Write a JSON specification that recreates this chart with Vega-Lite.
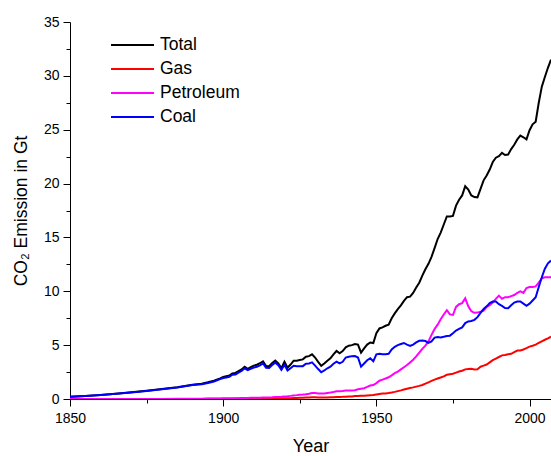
{
  "$schema": "https://vega.github.io/schema/vega-lite/v6.json",
  "width": 481,
  "height": 377,
  "autosize": {"type": "none"},
  "padding": {"left": 70, "top": 22, "right": 0, "bottom": 57},
  "background": "white",
  "config": {
    "font": "Liberation Sans",
    "view": {"stroke": null},
    "axis": {"grid": false, "domainColor": "#000000", "tickColor": "#000000", "labelColor": "#000000", "titleColor": "#000000", "domainWidth": 1, "tickWidth": 1, "labelFont": "Liberation Sans", "titleFont": "Liberation Sans", "titleFontWeight": "normal"}
  },
  "data": {
    "values": [
      {"year": 1850, "Total": 0.20, "Coal": 0.20, "Petroleum": 0.0, "Gas": 0.0},
      {"year": 1855, "Total": 0.27, "Coal": 0.27, "Petroleum": 0.0, "Gas": 0.0},
      {"year": 1860, "Total": 0.36, "Coal": 0.36, "Petroleum": 0.0, "Gas": 0.0},
      {"year": 1865, "Total": 0.48, "Coal": 0.48, "Petroleum": 0.005, "Gas": 0.0},
      {"year": 1870, "Total": 0.62, "Coal": 0.61, "Petroleum": 0.01, "Gas": 0.0},
      {"year": 1875, "Total": 0.76, "Coal": 0.75, "Petroleum": 0.01, "Gas": 0.0},
      {"year": 1880, "Total": 0.92, "Coal": 0.91, "Petroleum": 0.01, "Gas": 0.0},
      {"year": 1885, "Total": 1.10, "Coal": 1.07, "Petroleum": 0.02, "Gas": 0.005},
      {"year": 1890, "Total": 1.33, "Coal": 1.29, "Petroleum": 0.03, "Gas": 0.01},
      {"year": 1893, "Total": 1.42, "Coal": 1.37, "Petroleum": 0.03, "Gas": 0.01},
      {"year": 1895, "Total": 1.55, "Coal": 1.49, "Petroleum": 0.04, "Gas": 0.02},
      {"year": 1897, "Total": 1.70, "Coal": 1.63, "Petroleum": 0.05, "Gas": 0.02},
      {"year": 1899, "Total": 1.92, "Coal": 1.84, "Petroleum": 0.05, "Gas": 0.02},
      {"year": 1900, "Total": 2.05, "Coal": 1.95, "Petroleum": 0.06, "Gas": 0.03},
      {"year": 1901, "Total": 2.12, "Coal": 2.00, "Petroleum": 0.07, "Gas": 0.03},
      {"year": 1902, "Total": 2.18, "Coal": 2.05, "Petroleum": 0.07, "Gas": 0.03},
      {"year": 1903, "Total": 2.38, "Coal": 2.25, "Petroleum": 0.08, "Gas": 0.03},
      {"year": 1904, "Total": 2.42, "Coal": 2.28, "Petroleum": 0.08, "Gas": 0.04},
      {"year": 1905, "Total": 2.60, "Coal": 2.45, "Petroleum": 0.08, "Gas": 0.04},
      {"year": 1906, "Total": 2.75, "Coal": 2.60, "Petroleum": 0.09, "Gas": 0.04},
      {"year": 1907, "Total": 3.00, "Coal": 2.85, "Petroleum": 0.10, "Gas": 0.04},
      {"year": 1908, "Total": 2.80, "Coal": 2.68, "Petroleum": 0.10, "Gas": 0.05},
      {"year": 1909, "Total": 2.95, "Coal": 2.80, "Petroleum": 0.11, "Gas": 0.05},
      {"year": 1910, "Total": 3.10, "Coal": 2.92, "Petroleum": 0.11, "Gas": 0.05},
      {"year": 1911, "Total": 3.18, "Coal": 3.00, "Petroleum": 0.12, "Gas": 0.06},
      {"year": 1912, "Total": 3.32, "Coal": 3.12, "Petroleum": 0.12, "Gas": 0.06},
      {"year": 1913, "Total": 3.50, "Coal": 3.31, "Petroleum": 0.13, "Gas": 0.06},
      {"year": 1914, "Total": 3.05, "Coal": 2.90, "Petroleum": 0.14, "Gas": 0.06},
      {"year": 1915, "Total": 3.05, "Coal": 2.88, "Petroleum": 0.15, "Gas": 0.06},
      {"year": 1916, "Total": 3.35, "Coal": 3.15, "Petroleum": 0.16, "Gas": 0.07},
      {"year": 1917, "Total": 3.56, "Coal": 3.37, "Petroleum": 0.18, "Gas": 0.07},
      {"year": 1918, "Total": 3.30, "Coal": 3.14, "Petroleum": 0.19, "Gas": 0.07},
      {"year": 1919, "Total": 2.85, "Coal": 2.70, "Petroleum": 0.21, "Gas": 0.07},
      {"year": 1920, "Total": 3.45, "Coal": 3.18, "Petroleum": 0.24, "Gas": 0.08},
      {"year": 1921, "Total": 2.90, "Coal": 2.65, "Petroleum": 0.26, "Gas": 0.07},
      {"year": 1922, "Total": 3.20, "Coal": 2.85, "Petroleum": 0.29, "Gas": 0.08},
      {"year": 1923, "Total": 3.56, "Coal": 3.08, "Petroleum": 0.33, "Gas": 0.09},
      {"year": 1924, "Total": 3.55, "Coal": 3.04, "Petroleum": 0.36, "Gas": 0.10},
      {"year": 1925, "Total": 3.62, "Coal": 3.05, "Petroleum": 0.40, "Gas": 0.11},
      {"year": 1926, "Total": 3.68, "Coal": 3.05, "Petroleum": 0.42, "Gas": 0.12},
      {"year": 1927, "Total": 3.93, "Coal": 3.28, "Petroleum": 0.45, "Gas": 0.13},
      {"year": 1928, "Total": 3.98, "Coal": 3.30, "Petroleum": 0.49, "Gas": 0.14},
      {"year": 1929, "Total": 4.15, "Coal": 3.40, "Petroleum": 0.55, "Gas": 0.16},
      {"year": 1930, "Total": 3.85, "Coal": 3.10, "Petroleum": 0.55, "Gas": 0.16},
      {"year": 1931, "Total": 3.45, "Coal": 2.78, "Petroleum": 0.52, "Gas": 0.15},
      {"year": 1932, "Total": 3.08, "Coal": 2.48, "Petroleum": 0.50, "Gas": 0.14},
      {"year": 1933, "Total": 3.30, "Coal": 2.65, "Petroleum": 0.52, "Gas": 0.14},
      {"year": 1934, "Total": 3.55, "Coal": 2.85, "Petroleum": 0.56, "Gas": 0.15},
      {"year": 1935, "Total": 3.78, "Coal": 3.00, "Petroleum": 0.60, "Gas": 0.16},
      {"year": 1936, "Total": 4.15, "Coal": 3.28, "Petroleum": 0.65, "Gas": 0.17},
      {"year": 1937, "Total": 4.46, "Coal": 3.47, "Petroleum": 0.72, "Gas": 0.19},
      {"year": 1938, "Total": 4.24, "Coal": 3.30, "Petroleum": 0.72, "Gas": 0.19},
      {"year": 1939, "Total": 4.45, "Coal": 3.45, "Petroleum": 0.74, "Gas": 0.20},
      {"year": 1940, "Total": 4.80, "Coal": 3.85, "Petroleum": 0.78, "Gas": 0.22},
      {"year": 1941, "Total": 4.95, "Coal": 3.92, "Petroleum": 0.80, "Gas": 0.23},
      {"year": 1942, "Total": 5.00, "Coal": 3.98, "Petroleum": 0.78, "Gas": 0.24},
      {"year": 1943, "Total": 5.10, "Coal": 3.99, "Petroleum": 0.82, "Gas": 0.27},
      {"year": 1944, "Total": 5.05, "Coal": 3.85, "Petroleum": 0.90, "Gas": 0.29},
      {"year": 1945, "Total": 4.30, "Coal": 3.00, "Petroleum": 0.95, "Gas": 0.30},
      {"year": 1946, "Total": 4.70, "Coal": 3.30, "Petroleum": 1.00, "Gas": 0.31},
      {"year": 1947, "Total": 5.05, "Coal": 3.60, "Petroleum": 1.12, "Gas": 0.33},
      {"year": 1948, "Total": 5.25, "Coal": 3.78, "Petroleum": 1.25, "Gas": 0.35},
      {"year": 1949, "Total": 5.20, "Coal": 3.50, "Petroleum": 1.30, "Gas": 0.37},
      {"year": 1950, "Total": 6.10, "Coal": 4.15, "Petroleum": 1.48, "Gas": 0.42},
      {"year": 1951, "Total": 6.55, "Coal": 4.20, "Petroleum": 1.70, "Gas": 0.47},
      {"year": 1952, "Total": 6.65, "Coal": 4.15, "Petroleum": 1.80, "Gas": 0.50},
      {"year": 1953, "Total": 6.80, "Coal": 4.15, "Petroleum": 1.90, "Gas": 0.52},
      {"year": 1954, "Total": 6.90, "Coal": 4.20, "Petroleum": 2.02, "Gas": 0.55},
      {"year": 1955, "Total": 7.50, "Coal": 4.60, "Petroleum": 2.20, "Gas": 0.60},
      {"year": 1956, "Total": 7.95, "Coal": 4.85, "Petroleum": 2.40, "Gas": 0.66},
      {"year": 1957, "Total": 8.35, "Coal": 5.00, "Petroleum": 2.55, "Gas": 0.73},
      {"year": 1958, "Total": 8.70, "Coal": 5.10, "Petroleum": 2.75, "Gas": 0.80},
      {"year": 1959, "Total": 9.10, "Coal": 5.20, "Petroleum": 2.95, "Gas": 0.88},
      {"year": 1960, "Total": 9.45, "Coal": 5.05, "Petroleum": 3.15, "Gas": 0.95},
      {"year": 1961, "Total": 9.50, "Coal": 4.92, "Petroleum": 3.40, "Gas": 1.02},
      {"year": 1962, "Total": 9.85, "Coal": 5.05, "Petroleum": 3.65, "Gas": 1.08},
      {"year": 1963, "Total": 10.35, "Coal": 5.25, "Petroleum": 3.95, "Gas": 1.15},
      {"year": 1964, "Total": 10.80, "Coal": 5.40, "Petroleum": 4.30, "Gas": 1.22},
      {"year": 1965, "Total": 11.45, "Coal": 5.42, "Petroleum": 4.65, "Gas": 1.30},
      {"year": 1966, "Total": 12.05, "Coal": 5.38, "Petroleum": 4.95, "Gas": 1.42},
      {"year": 1967, "Total": 12.55, "Coal": 5.22, "Petroleum": 5.35, "Gas": 1.55},
      {"year": 1968, "Total": 13.20, "Coal": 5.35, "Petroleum": 5.95, "Gas": 1.68},
      {"year": 1969, "Total": 14.00, "Coal": 5.70, "Petroleum": 6.50, "Gas": 1.80},
      {"year": 1970, "Total": 14.85, "Coal": 5.75, "Petroleum": 6.90, "Gas": 1.90},
      {"year": 1971, "Total": 15.45, "Coal": 5.72, "Petroleum": 7.40, "Gas": 2.00},
      {"year": 1972, "Total": 16.20, "Coal": 5.78, "Petroleum": 7.85, "Gas": 2.10},
      {"year": 1973, "Total": 16.95, "Coal": 5.85, "Petroleum": 8.25, "Gas": 2.25},
      {"year": 1974, "Total": 16.95, "Coal": 5.88, "Petroleum": 7.85, "Gas": 2.30},
      {"year": 1975, "Total": 17.00, "Coal": 6.10, "Petroleum": 7.80, "Gas": 2.35},
      {"year": 1976, "Total": 17.95, "Coal": 6.35, "Petroleum": 8.55, "Gas": 2.45},
      {"year": 1977, "Total": 18.50, "Coal": 6.50, "Petroleum": 8.80, "Gas": 2.55},
      {"year": 1978, "Total": 18.90, "Coal": 6.65, "Petroleum": 8.90, "Gas": 2.62},
      {"year": 1979, "Total": 19.75, "Coal": 7.05, "Petroleum": 9.35, "Gas": 2.75},
      {"year": 1980, "Total": 19.45, "Coal": 7.20, "Petroleum": 8.60, "Gas": 2.78},
      {"year": 1981, "Total": 18.90, "Coal": 7.25, "Petroleum": 8.15, "Gas": 2.80},
      {"year": 1982, "Total": 18.75, "Coal": 7.35, "Petroleum": 8.00, "Gas": 2.75},
      {"year": 1983, "Total": 18.72, "Coal": 7.60, "Petroleum": 8.02, "Gas": 2.76},
      {"year": 1984, "Total": 19.50, "Coal": 8.00, "Petroleum": 8.10, "Gas": 3.00},
      {"year": 1985, "Total": 20.30, "Coal": 8.35, "Petroleum": 8.20, "Gas": 3.10},
      {"year": 1986, "Total": 20.75, "Coal": 8.60, "Petroleum": 8.55, "Gas": 3.20},
      {"year": 1987, "Total": 21.30, "Coal": 8.90, "Petroleum": 8.70, "Gas": 3.40},
      {"year": 1988, "Total": 22.00, "Coal": 9.05, "Petroleum": 8.95, "Gas": 3.60},
      {"year": 1989, "Total": 22.40, "Coal": 9.05, "Petroleum": 9.30, "Gas": 3.75},
      {"year": 1990, "Total": 22.55, "Coal": 8.80, "Petroleum": 9.60, "Gas": 3.90},
      {"year": 1991, "Total": 22.85, "Coal": 8.65, "Petroleum": 9.30, "Gas": 4.05},
      {"year": 1992, "Total": 22.65, "Coal": 8.45, "Petroleum": 9.45, "Gas": 4.08},
      {"year": 1993, "Total": 22.70, "Coal": 8.42, "Petroleum": 9.45, "Gas": 4.15},
      {"year": 1994, "Total": 23.20, "Coal": 8.70, "Petroleum": 9.55, "Gas": 4.20},
      {"year": 1995, "Total": 23.60, "Coal": 8.95, "Petroleum": 9.65, "Gas": 4.35},
      {"year": 1996, "Total": 24.10, "Coal": 9.05, "Petroleum": 9.85, "Gas": 4.50},
      {"year": 1997, "Total": 24.45, "Coal": 9.05, "Petroleum": 10.00, "Gas": 4.50},
      {"year": 1998, "Total": 24.30, "Coal": 8.85, "Petroleum": 9.85, "Gas": 4.60},
      {"year": 1999, "Total": 24.10, "Coal": 8.65, "Petroleum": 10.30, "Gas": 4.72},
      {"year": 2000, "Total": 24.95, "Coal": 8.85, "Petroleum": 10.40, "Gas": 4.86},
      {"year": 2001, "Total": 25.50, "Coal": 9.15, "Petroleum": 10.40, "Gas": 4.95},
      {"year": 2002, "Total": 25.75, "Coal": 9.45, "Petroleum": 10.45, "Gas": 5.05},
      {"year": 2003, "Total": 27.50, "Coal": 10.40, "Petroleum": 10.80, "Gas": 5.20},
      {"year": 2004, "Total": 29.00, "Coal": 11.30, "Petroleum": 11.20, "Gas": 5.35},
      {"year": 2005, "Total": 29.90, "Coal": 12.10, "Petroleum": 11.30, "Gas": 5.50},
      {"year": 2006, "Total": 30.75, "Coal": 12.60, "Petroleum": 11.30, "Gas": 5.62},
      {"year": 2007, "Total": 31.50, "Coal": 12.85, "Petroleum": 11.30, "Gas": 5.78}
    ]
  },
  "transform": [
    {"fold": ["Total", "Gas", "Petroleum", "Coal"], "as": ["fuel", "co2"]}
  ],
  "mark": {"type": "line", "strokeWidth": 2, "clip": true},
  "encoding": {
    "x": {
      "field": "year",
      "type": "quantitative",
      "scale": {"domain": [1850, 2007], "nice": false, "zero": false},
      "axis": {
        "title": "Year",
        "titleFontSize": 18,
        "titlePadding": 12,
        "labelFontSize": 14,
        "labelPadding": 5,
        "labelFlush": false,
        "labelOverlap": false,
        "format": "d",
        "values": [1850, 1875, 1900, 1925, 1950, 1975, 2000],
        "labelExpr": "datum.value % 50 === 0 ? datum.label : ''",
        "tickSize": {"condition": {"test": "datum.value % 50 === 0", "value": 7}, "value": 4}
      }
    },
    "y": {
      "field": "co2",
      "type": "quantitative",
      "scale": {"domain": [0, 35], "nice": false},
      "axis": {
        "title": "CO₂ Emission in Gt",
        "titleFontSize": 17.5,
        "titlePadding": 13,
        "labelFontSize": 14,
        "labelPadding": 4,
        "labelOverlap": false,
        "values": [0, 2.5, 5, 7.5, 10, 12.5, 15, 17.5, 20, 22.5, 25, 27.5, 30, 32.5, 35],
        "labelExpr": "datum.value % 5 === 0 ? datum.label : ''",
        "tickSize": {"condition": {"test": "datum.value % 5 === 0", "value": 7}, "value": 4}
      }
    },
    "color": {
      "field": "fuel",
      "type": "nominal",
      "sort": ["Total", "Gas", "Petroleum", "Coal"],
      "scale": {"domain": ["Total", "Gas", "Petroleum", "Coal"], "range": ["#000000", "#ff0000", "#ff00ff", "#0000ff"]},
      "legend": {
        "title": null,
        "orient": "none",
        "legendX": 40,
        "legendY": 13,
        "padding": 0,
        "symbolType": "stroke",
        "symbolSize": 1849,
        "symbolStrokeWidth": 2,
        "clipHeight": 20,
        "rowPadding": 4,
        "labelOffset": 5,
        "labelFontSize": 17.5,
        "labelFont": "Liberation Sans",
        "labelColor": "#000000"
      }
    }
  }
}
